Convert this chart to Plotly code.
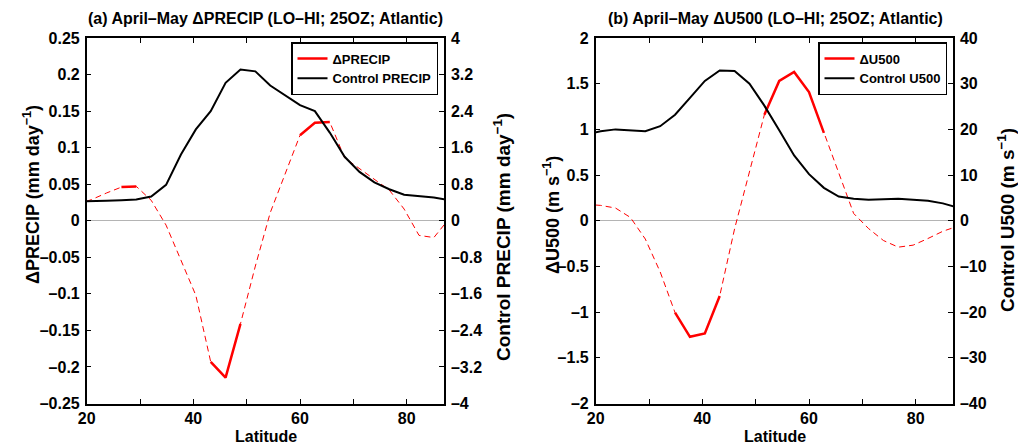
import plotly.graph_objects as go

# ---------------- data ----------------
lat = [18.139, 20.930, 23.720, 26.511, 29.301, 32.092, 34.883, 37.673, 40.464,
       43.254, 46.045, 48.835, 51.626, 54.416, 57.207, 59.997, 62.787, 65.578,
       68.368, 71.158, 73.948, 76.737, 79.526, 82.313, 85.097, 87.864]

# (a) precipitation
dprecip = [0.022, 0.029, 0.038, 0.046, 0.047, 0.028, -0.006, -0.055, -0.102,
           -0.193, -0.2145, -0.141, -0.062, 0.011, 0.064, 0.117, 0.134, 0.135,
           0.086, 0.071, 0.057, 0.042, 0.016, -0.020, -0.023, 0.002]
precip_ctrl = [0.42, 0.436, 0.436, 0.45, 0.465, 0.53, 0.785, 1.45, 2.0,
               2.4, 3.02, 3.31, 3.27, 2.96, 2.74, 2.53, 2.40, 1.93,
               1.40, 1.07, 0.84, 0.69, 0.57, 0.545, 0.51, 0.45]
sig_precip = [0, 0, 0, 1, 1, 0, 0, 0, 0, 1, 1, 1, 0, 0, 0, 1, 1, 1,
              0, 0, 0, 0, 0, 0, 0, 0]

# (b) 500 hPa zonal wind
du500 = [0.18, 0.168, 0.139, 0.036, -0.2, -0.56, -1.006, -1.27, -1.233,
         -0.823, -0.088, 0.53, 1.16, 1.53, 1.628, 1.409, 0.962, 0.52,
         0.08, -0.085, -0.216, -0.289, -0.267, -0.194, -0.115, -0.06]
u500_ctrl = [18.9, 19.6, 20.0, 19.8, 19.6, 20.7, 23.2, 26.9, 30.6,
             32.9, 32.8, 30.0, 25.2, 19.8, 14.3, 10.2, 7.2, 5.3,
             4.8, 4.6, 4.7, 4.8, 4.6, 4.4, 3.8, 2.9]
sig_u500 = [0, 0, 0, 0, 0, 0, 1, 1, 1, 1, 0, 0, 1, 1, 1, 1, 1, 0,
            0, 0, 0, 0, 0, 0, 0, 0]

x_ticks = [20, 30, 40, 50, 60, 70, 80]
x_ticktext = ["20", "", "40", "", "60", "", "80"]

yl_a_vals = [0.25, 0.2, 0.15, 0.1, 0.05, 0, -0.05, -0.1, -0.15, -0.2, -0.25]
yl_a_text = ["0.25", "0.2", "0.15", "0.1", "0.05", "0", "\u20130.05", "\u20130.1",
             "\u20130.15", "\u20130.2", "\u20130.25"]
yr_a_vals = [4, 3.2, 2.4, 1.6, 0.8, 0, -0.8, -1.6, -2.4, -3.2, -4]
yr_a_text = ["4", "3.2", "2.4", "1.6", "0.8", "0", "\u20130.8", "\u20131.6",
             "\u20132.4", "\u20133.2", "\u20134"]
yl_b_vals = [2, 1.5, 1, 0.5, 0, -0.5, -1, -1.5, -2]
yl_b_text = ["2", "1.5", "1", "0.5", "0", "\u20130.5", "\u20131", "\u20131.5", "\u20132"]
yr_b_vals = [40, 30, 20, 10, 0, -10, -20, -30, -40]
yr_b_text = ["40", "30", "20", "10", "0", "\u201310", "\u201320", "\u201330", "\u201340"]

# ---------------- styling ----------------
FONT = "Liberation Sans, Arial, Helvetica, sans-serif"
W, H = 1018, 446


def masked(vals, sig):
    return [v if s else None for v, s in zip(vals, sig)]


def px_x(p):
    return p / W


def px_y(p):
    return 1 - p / H


fig = go.Figure()

# panel (a)
fig.add_trace(go.Scatter(x=lat, y=dprecip, mode="lines", showlegend=False,
                         line=dict(color="red", width=1, dash="6px,4px"),
                         xaxis="x", yaxis="y", hoverinfo="skip"))
fig.add_trace(go.Scatter(x=lat, y=masked(dprecip, sig_precip), mode="lines",
                         name="\u0394PRECIP", connectgaps=False,
                         line=dict(color="red", width=2.5),
                         xaxis="x", yaxis="y", legend="legend"))
fig.add_trace(go.Scatter(x=lat, y=precip_ctrl, mode="lines", name="Control PRECIP",
                         line=dict(color="black", width=2),
                         xaxis="x", yaxis="y2", legend="legend"))

# panel (b)
fig.add_trace(go.Scatter(x=lat, y=du500, mode="lines", showlegend=False,
                         line=dict(color="red", width=1, dash="6px,4px"),
                         xaxis="x2", yaxis="y3", hoverinfo="skip"))
fig.add_trace(go.Scatter(x=lat, y=masked(du500, sig_u500), mode="lines",
                         name="\u0394U500", connectgaps=False,
                         line=dict(color="red", width=2.5),
                         xaxis="x2", yaxis="y3", legend="legend2"))
fig.add_trace(go.Scatter(x=lat, y=u500_ctrl, mode="lines", name="Control U500",
                         line=dict(color="black", width=2),
                         xaxis="x2", yaxis="y4", legend="legend2"))

tickfont = dict(family=FONT, size=16, color="black", weight="bold")
common_axis = dict(showgrid=False, ticks="inside", ticklen=5, tickwidth=1,
                   tickcolor="black", showline=True, linecolor="black",
                   linewidth=1.5, tickfont=tickfont, automargin=False)

dom_a = [px_x(86.7), px_x(444)]
dom_b = [px_x(595.7), px_x(953)]
dom_y = [px_y(403.5), px_y(38)]

fig.update_layout(
    width=W, height=H,
    margin=dict(l=0, r=0, t=0, b=0),
    paper_bgcolor="white", plot_bgcolor="white",
    font=dict(family=FONT, color="black", weight="bold"),
    xaxis=dict(domain=dom_a, range=[20, 87], tickvals=x_ticks, ticktext=x_ticktext,
               mirror="ticks", anchor="y", zeroline=False, **common_axis),
    yaxis=dict(domain=dom_y, range=[-0.25, 0.25], tickvals=yl_a_vals, ticktext=yl_a_text,
               anchor="x", zeroline=True, zerolinecolor="#b4b4b4", zerolinewidth=1,
               ticklabelstandoff=2, **common_axis),
    yaxis2=dict(range=[-4, 4], tickvals=yr_a_vals, ticktext=yr_a_text, overlaying="y",
                side="right", anchor="x", zeroline=False, ticklabelstandoff=2,
                **common_axis),
    xaxis2=dict(domain=dom_b, range=[20, 87], tickvals=x_ticks, ticktext=x_ticktext,
                mirror="ticks", anchor="y3", zeroline=False, **common_axis),
    yaxis3=dict(domain=dom_y, range=[-2, 2], tickvals=yl_b_vals, ticktext=yl_b_text,
                anchor="x2", zeroline=True, zerolinecolor="#b4b4b4", zerolinewidth=1,
                ticklabelstandoff=2, **common_axis),
    yaxis4=dict(range=[-40, 40], tickvals=yr_b_vals, ticktext=yr_b_text, overlaying="y3",
                side="right", anchor="x2", zeroline=False, ticklabelstandoff=2,
                **common_axis),
    legend=dict(x=px_x(438), xanchor="right", y=px_y(42), yanchor="top",
                bgcolor="white", bordercolor="black", borderwidth=1.5,
                font=dict(family=FONT, size=13, color="black", weight="bold"),
                tracegroupgap=0, itemwidth=30),
    legend2=dict(x=px_x(947), xanchor="right", y=px_y(42), yanchor="top",
                 bgcolor="white", bordercolor="black", borderwidth=1.5,
                 font=dict(family=FONT, size=13, color="black", weight="bold"),
                 tracegroupgap=0, itemwidth=30),
)

ann_font = dict(family=FONT, size=16, color="black", weight="bold")
ylab_font = dict(family=FONT, size=19, color="black", weight="bold")
annotations = [
    dict(text="(a) April\u2013May \u0394PRECIP (LO\u2013HI; 25OZ; Atlantic)",
         x=px_x(265.5), y=px_y(18), font=ann_font),
    dict(text="(b) April\u2013May \u0394U500 (LO\u2013HI; 25OZ; Atlantic)",
         x=px_x(775), y=px_y(18), font=ann_font),
    dict(text="Latitude", x=px_x(265.5), y=px_y(436), font=ann_font),
    dict(text="Latitude", x=px_x(775), y=px_y(436), font=ann_font),
    dict(text="\u0394PRECIP (mm day<sup>\u22121</sup>)", x=px_x(31), y=px_y(195),
         textangle=-90, font=dict(ylab_font, size=18)),
    dict(text="Control PRECIP (mm day<sup>\u22121</sup>)", x=px_x(502), y=px_y(237),
         textangle=-90, font=ylab_font),
    dict(text="\u0394U500 (m s<sup>\u22121</sup>)", x=px_x(552), y=px_y(215),
         textangle=-90, font=dict(ylab_font, size=18)),
    dict(text="Control U500 (m s<sup>\u22121</sup>)", x=px_x(1006), y=px_y(220),
         textangle=-90, font=ylab_font),
]
for a in annotations:
    a.update(xref="paper", yref="paper", showarrow=False,
             xanchor="center", yanchor="middle")
fig.update_layout(annotations=annotations)

fig.write_html("out.html",
               config={"displayModeBar": False},
               post_script="document.body.style.margin='0';document.body.style.overflow='hidden';")
